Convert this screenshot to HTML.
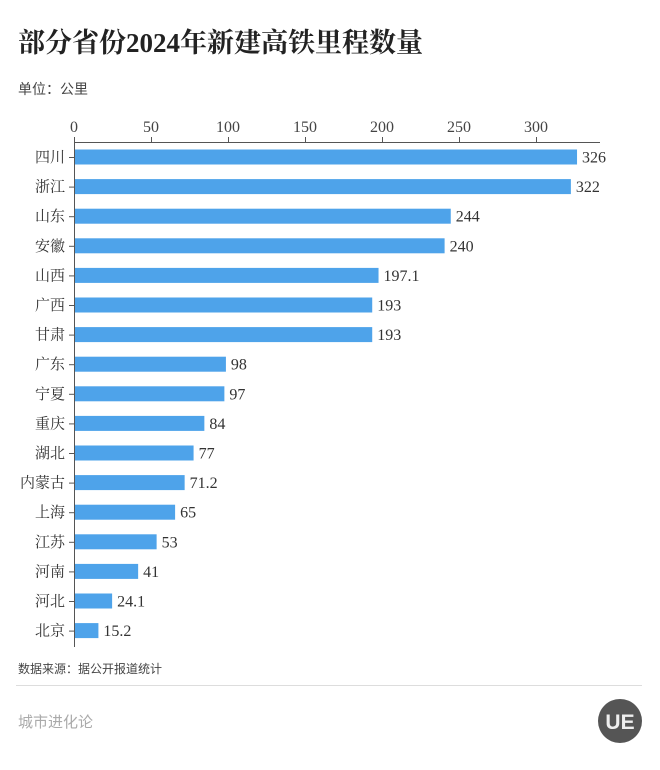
<!DOCTYPE html>
<html><head><meta charset="utf-8"><style>
body{margin:0;background:#fff;}
svg{display:block}
.s{font-family:"Liberation Serif","Noto Serif CJK SC",serif;}
</style></head><body>
<svg width="660" height="770" xmlns="http://www.w3.org/2000/svg">
<rect width="660" height="770" fill="#fff"/>
<text x="18" y="52" class="s" font-size="27" font-weight="bold" fill="#222">部分省份2024年新建高铁里程数量</text>
<text x="18" y="94" font-family="Liberation Sans,'Noto Sans CJK SC',sans-serif" font-size="14" fill="#444">单位：公里</text>
<g class="s" font-size="16" fill="#444" text-anchor="middle">
<text x="74" y="132">0</text><text x="151" y="132">50</text><text x="228" y="132">100</text><text x="305" y="132">150</text><text x="382" y="132">200</text><text x="459" y="132">250</text><text x="536" y="132">300</text>
</g>
<g stroke="#555" stroke-width="1">
<line x1="74" y1="142.5" x2="600" y2="142.5"/>
<line x1="74.5" y1="137" x2="74.5" y2="647"/>
<line x1="151.5" y1="137" x2="151.5" y2="142"/><line x1="228.5" y1="137" x2="228.5" y2="142"/><line x1="305.5" y1="137" x2="305.5" y2="142"/><line x1="382.5" y1="137" x2="382.5" y2="142"/><line x1="459.5" y1="137" x2="459.5" y2="142"/><line x1="536.5" y1="137" x2="536.5" y2="142"/>
</g>
<g id="bars"></g>
<text x="18" y="673" font-family="Liberation Sans,'Noto Sans CJK SC',sans-serif" font-size="12" fill="#444">数据来源：据公开报道统计</text>
<line x1="16" y1="685.5" x2="642" y2="685.5" stroke="#ddd"/>
<text x="18" y="727" font-family="Liberation Sans,'Noto Sans CJK SC',sans-serif" font-size="15" fill="#aaa">城市进化论</text>
<circle cx="620" cy="721" r="22" fill="#555"/>
<text x="620" y="729" text-anchor="middle" font-family="Liberation Sans,sans-serif" font-size="21" font-weight="bold" fill="#eee">UE</text>
</svg>
<script>
var d=[["四川",326,"326"],["浙江",322,"322"],["山东",244,"244"],["安徽",240,"240"],["山西",197.1,"197.1"],["广西",193,"193"],["甘肃",193,"193"],["广东",98,"98"],["宁夏",97,"97"],["重庆",84,"84"],["湖北",77,"77"],["内蒙古",71.2,"71.2"],["上海",65,"65"],["江苏",53,"53"],["河南",41,"41"],["河北",24.1,"24.1"],["北京",15.2,"15.2"]];
var g=document.getElementById("bars"),h="";
d.forEach(function(r,i){var c=157+i*29.6,w=r[1]*1.54;
h+='<rect x="75" y="'+(c-7.5)+'" width="'+w+'" height="15" fill="#4ea3ea"/>';
h+='<line x1="69" x2="74" y1="'+(c+.5)+'" y2="'+(c+.5)+'" stroke="#555"/>';
h+='<text class="s" font-size="15" fill="#333" text-anchor="end" x="65" y="'+(c+5)+'">'+r[0]+'</text>';
h+='<text class="s" font-size="16" fill="#333" x="'+(80+w)+'" y="'+(c+5.5)+'">'+r[2]+'</text>';});
g.innerHTML=h;
</script>
</body></html>
